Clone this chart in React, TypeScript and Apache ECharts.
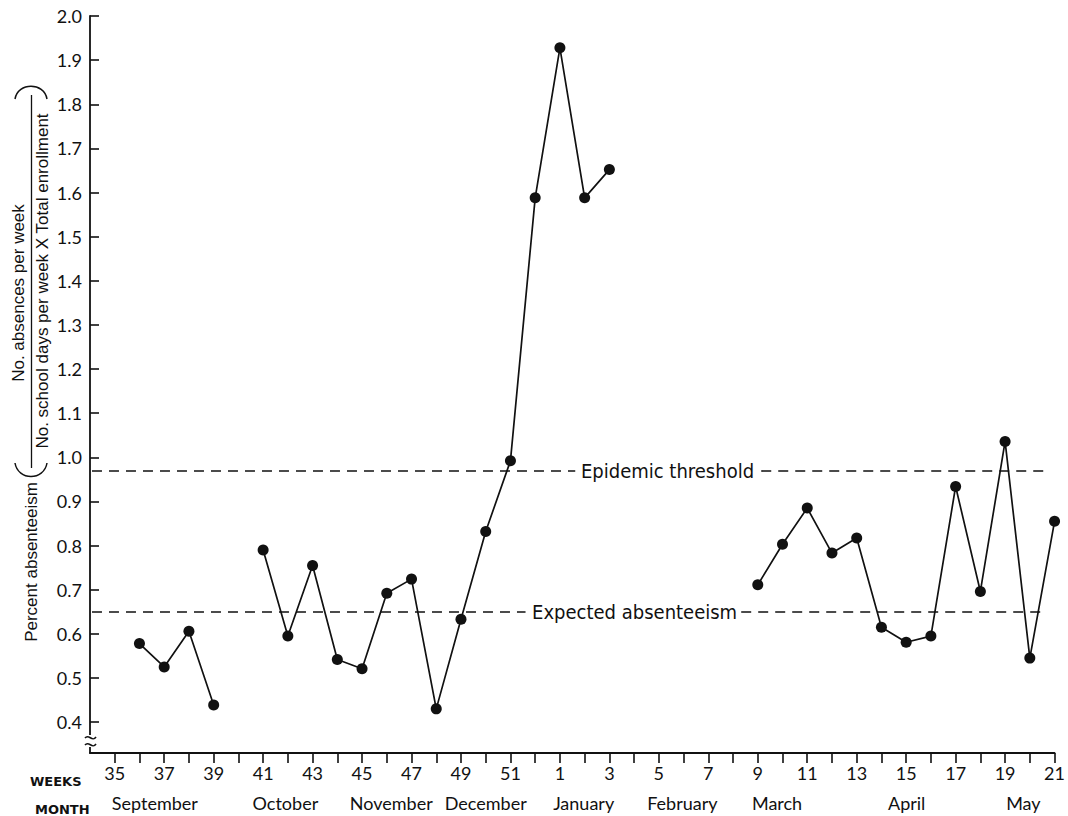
import React, { useEffect, useRef } from "react";
import * as echarts from "echarts";

// ---- data ----
const weekLabels: string[] = [
  "", "35", "36", "37", "38", "39", "40", "41", "42", "43", "44", "45", "46", "47", "48", "49", "50", "51", "52",
  "1", "2", "3", "4", "5", "6", "7", "8", "9", "10", "11", "12", "13", "14", "15", "16", "17", "18", "19", "20", "21",
];

const absenteeism: (number | null)[] = [
  null, // (origin)
  null, // 35
  0.578, // 36
  0.525, // 37
  0.606, // 38
  0.439, // 39
  null, // 40
  0.79, // 41
  0.595, // 42
  0.755, // 43
  0.542, // 44
  0.521, // 45
  0.692, // 46
  0.724, // 47
  0.43, // 48
  0.633, // 49
  0.832, // 50
  0.992, // 51
  1.588, // 52
  1.928, // 1
  1.588, // 2
  1.652, // 3
  null, // 4
  null, // 5
  null, // 6
  null, // 7
  null, // 8
  0.711, // 9
  0.803, // 10
  0.885, // 11
  0.783, // 12
  0.817, // 13
  0.615, // 14
  0.581, // 15
  0.595, // 16
  0.934, // 17
  0.696, // 18
  1.036, // 19
  0.545, // 20
  0.855, // 21
];

const yTickValues = [0.4, 0.5, 0.6, 0.7, 0.8, 0.9, 1.0, 1.1, 1.2, 1.3, 1.4, 1.5, 1.6, 1.7, 1.8, 1.9, 2.0];

const monthNames = ["September", "October", "November", "December", "January", "February", "March", "April", "May"];
const monthPositions = [2.62, 7.9, 12.18, 16.0, 19.96, 23.95, 27.78, 33.02, 37.74];

const epidemicThreshold = 0.97;
const expectedAbsenteeism = 0.65;

// ---- styles ----
const TICK_FONT = "Lato, 'DejaVu Sans', sans-serif";
const NAME_FONT = "'Liberation Sans', Arial, sans-serif";
const NOTE_FONT = "'Liberation Sans Narrow', 'DejaVu Sans Condensed', 'Liberation Sans', sans-serif";
const INK = "#111";

export default function App() {
  const ref = useRef<HTMLDivElement>(null);

  useEffect(() => {
    const chart = echarts.init(ref.current!, null, { renderer: "svg" });

    const tickIdx = weekLabels.map((_, i) => i).filter((i) => i > 0);
    const labelIdx = tickIdx.filter((i) => Number(weekLabels[i]) % 2 === 1);
    const seriesData = absenteeism.map((v, i) => [i, v === null ? "-" : v]);

    const dashStyle = { color: INK, width: 1.6, type: [10, 7] as any };

    const segment = (x1: number, x2: number, y: number) => [
      { coord: [x1, y] },
      { coord: [x2, y] },
    ];

    const option: any = {
      animation: false,
      backgroundColor: "#fff",
      grid: { left: 90, right: 11, top: 16, bottom: 63, containLabel: false },
      xAxis: [
        {
          type: "value",
          min: 0,
          max: weekLabels.length - 1,
          interval: 1,
          position: "bottom",
          axisLine: { show: true, onZero: false, lineStyle: { color: INK, width: 1.8 } },
          axisTick: { show: true, length: 10, customValues: tickIdx, lineStyle: { color: INK, width: 1.6 } },
          axisLabel: {
            show: true,
            customValues: labelIdx,
            formatter: (v: number) => weekLabels[Math.round(v)],
            margin: 11,
            fontSize: 18,
            fontFamily: TICK_FONT,
            color: INK,
          },
          splitLine: { show: false },
        },
        {
          type: "value",
          min: 0,
          max: weekLabels.length - 1,
          position: "bottom",
          offset: 0,
          axisLine: { show: false },
          axisTick: { show: false },
          axisLabel: {
            show: true,
            customValues: monthPositions,
            formatter: (v: number) => {
              const k = monthPositions.findIndex((p) => Math.abs(p - v) < 1e-6);
              return k >= 0 ? monthNames[k] : "";
            },
            margin: 41,
            fontSize: 18,
            fontFamily: TICK_FONT,
            color: INK,
          },
          splitLine: { show: false },
        },
      ],
      yAxis: {
        type: "value",
        min: 0.33,
        max: 2.0,
        axisLine: { show: true, onZero: false, lineStyle: { color: INK, width: 1.8 } },
        axisTick: { show: true, inside: true, length: 9, customValues: yTickValues, lineStyle: { color: INK, width: 1.6 } },
        axisLabel: {
          show: true,
          customValues: yTickValues,
          formatter: (v: number) => v.toFixed(1),
          margin: 8,
          fontSize: 18,
          fontFamily: TICK_FONT,
          color: INK,
        },
        splitLine: { show: false },
      },
      series: [
        {
          type: "line",
          xAxisIndex: 0,
          data: seriesData,
          connectNulls: false,
          symbol: "circle",
          symbolSize: 11,
          itemStyle: { color: INK },
          lineStyle: { color: INK, width: 1.7 },
          z: 5,
          markLine: {
            silent: true,
            symbol: ["none", "none"],
            label: { show: false },
            lineStyle: dashStyle,
            emphasis: { disabled: true },
            data: [
              segment(0.08, 19.62, epidemicThreshold),
              segment(27.14, 38.63, epidemicThreshold),
              segment(0.08, 17.61, expectedAbsenteeism),
              segment(26.33, 38.63, expectedAbsenteeism),
            ],
          },
          markPoint: {
            silent: true,
            symbol: "circle",
            symbolSize: 1,
            itemStyle: { color: "rgba(0,0,0,0)" },
            label: {
              show: true,
              position: "inside",
              formatter: (p: any) => p.name,
              fontSize: 20,
              fontFamily: NOTE_FONT,
              color: INK,
            },
            data: [
              { name: "Epidemic threshold", coord: [23.35, epidemicThreshold] },
              { name: "Expected absenteeism", coord: [22.02, expectedAbsenteeism] },
            ],
          },
        },
      ],
      graphic: [
        // y-axis title: Percent absenteeism ( No. absences per week / No. school days per week X Total enrollment )
        {
          type: "text",
          x: 31,
          y: 562,
          rotation: Math.PI / 2,
          z: 100,
          style: { text: "Percent absenteeism", fontSize: 17, fontFamily: NAME_FONT, fill: INK, align: "center", verticalAlign: "middle" },
        },
        {
          type: "bezierCurve",
          z: 100,
          shape: { x1: 15, y1: 463, cpx1: 18, cpy1: 481, cpx2: 44, cpy2: 481, x2: 47, y2: 463 },
          style: { stroke: INK, lineWidth: 1.5, fill: null },
        },
        {
          type: "bezierCurve",
          z: 100,
          shape: { x1: 15, y1: 99, cpx1: 18, cpy1: 82, cpx2: 44, cpy2: 82, x2: 47, y2: 99 },
          style: { stroke: INK, lineWidth: 1.5, fill: null },
        },
        {
          type: "text",
          x: 18,
          y: 293,
          rotation: Math.PI / 2,
          z: 100,
          style: { text: "No. absences per week", fontSize: 17, fontFamily: NAME_FONT, fill: INK, align: "center", verticalAlign: "middle" },
        },
        {
          type: "line",
          z: 100,
          shape: { x1: 31.5, y1: 95, x2: 31.5, y2: 468 },
          style: { stroke: INK, lineWidth: 1.3 },
        },
        {
          type: "text",
          x: 42,
          y: 281,
          rotation: Math.PI / 2,
          z: 100,
          style: { text: "No. school days per week X Total enrollment", fontSize: 17, fontFamily: NAME_FONT, fill: INK, align: "center", verticalAlign: "middle" },
        },
        // row titles
        {
          type: "text",
          x: 30,
          y: 781,
          z: 100,
          style: { text: "WEEKS", fontSize: 13, fontWeight: "bold", fontFamily: "'DejaVu Sans', sans-serif", fill: INK, align: "left", verticalAlign: "middle" },
        },
        {
          type: "text",
          x: 35,
          y: 809,
          z: 100,
          style: { text: "MONTH", fontSize: 13, fontWeight: "bold", fontFamily: "'DejaVu Sans', sans-serif", fill: INK, align: "left", verticalAlign: "middle" },
        },
        // axis break mark
        {
          type: "rect",
          z: 100,
          shape: { x: 84, y: 735, width: 13, height: 12 },
          style: { fill: "#fff" },
        },
        {
          type: "bezierCurve",
          z: 101,
          shape: { x1: 85, y1: 738, cpx1: 89, cpy1: 733, cpx2: 92, cpy2: 743, x2: 96, y2: 737 },
          style: { stroke: INK, lineWidth: 1.6, fill: null },
        },
        {
          type: "bezierCurve",
          z: 101,
          shape: { x1: 85, y1: 745, cpx1: 89, cpy1: 740, cpx2: 92, cpy2: 750, x2: 96, y2: 744 },
          style: { stroke: INK, lineWidth: 1.6, fill: null },
        },
      ],
    };

    chart.setOption(option);
    return () => chart.dispose();
  }, []);

  return (
    <div
      ref={ref}
      style={{ position: "absolute", left: 0, top: 0, width: 1068, height: 816, background: "#fff" }}
    />
  );
}
